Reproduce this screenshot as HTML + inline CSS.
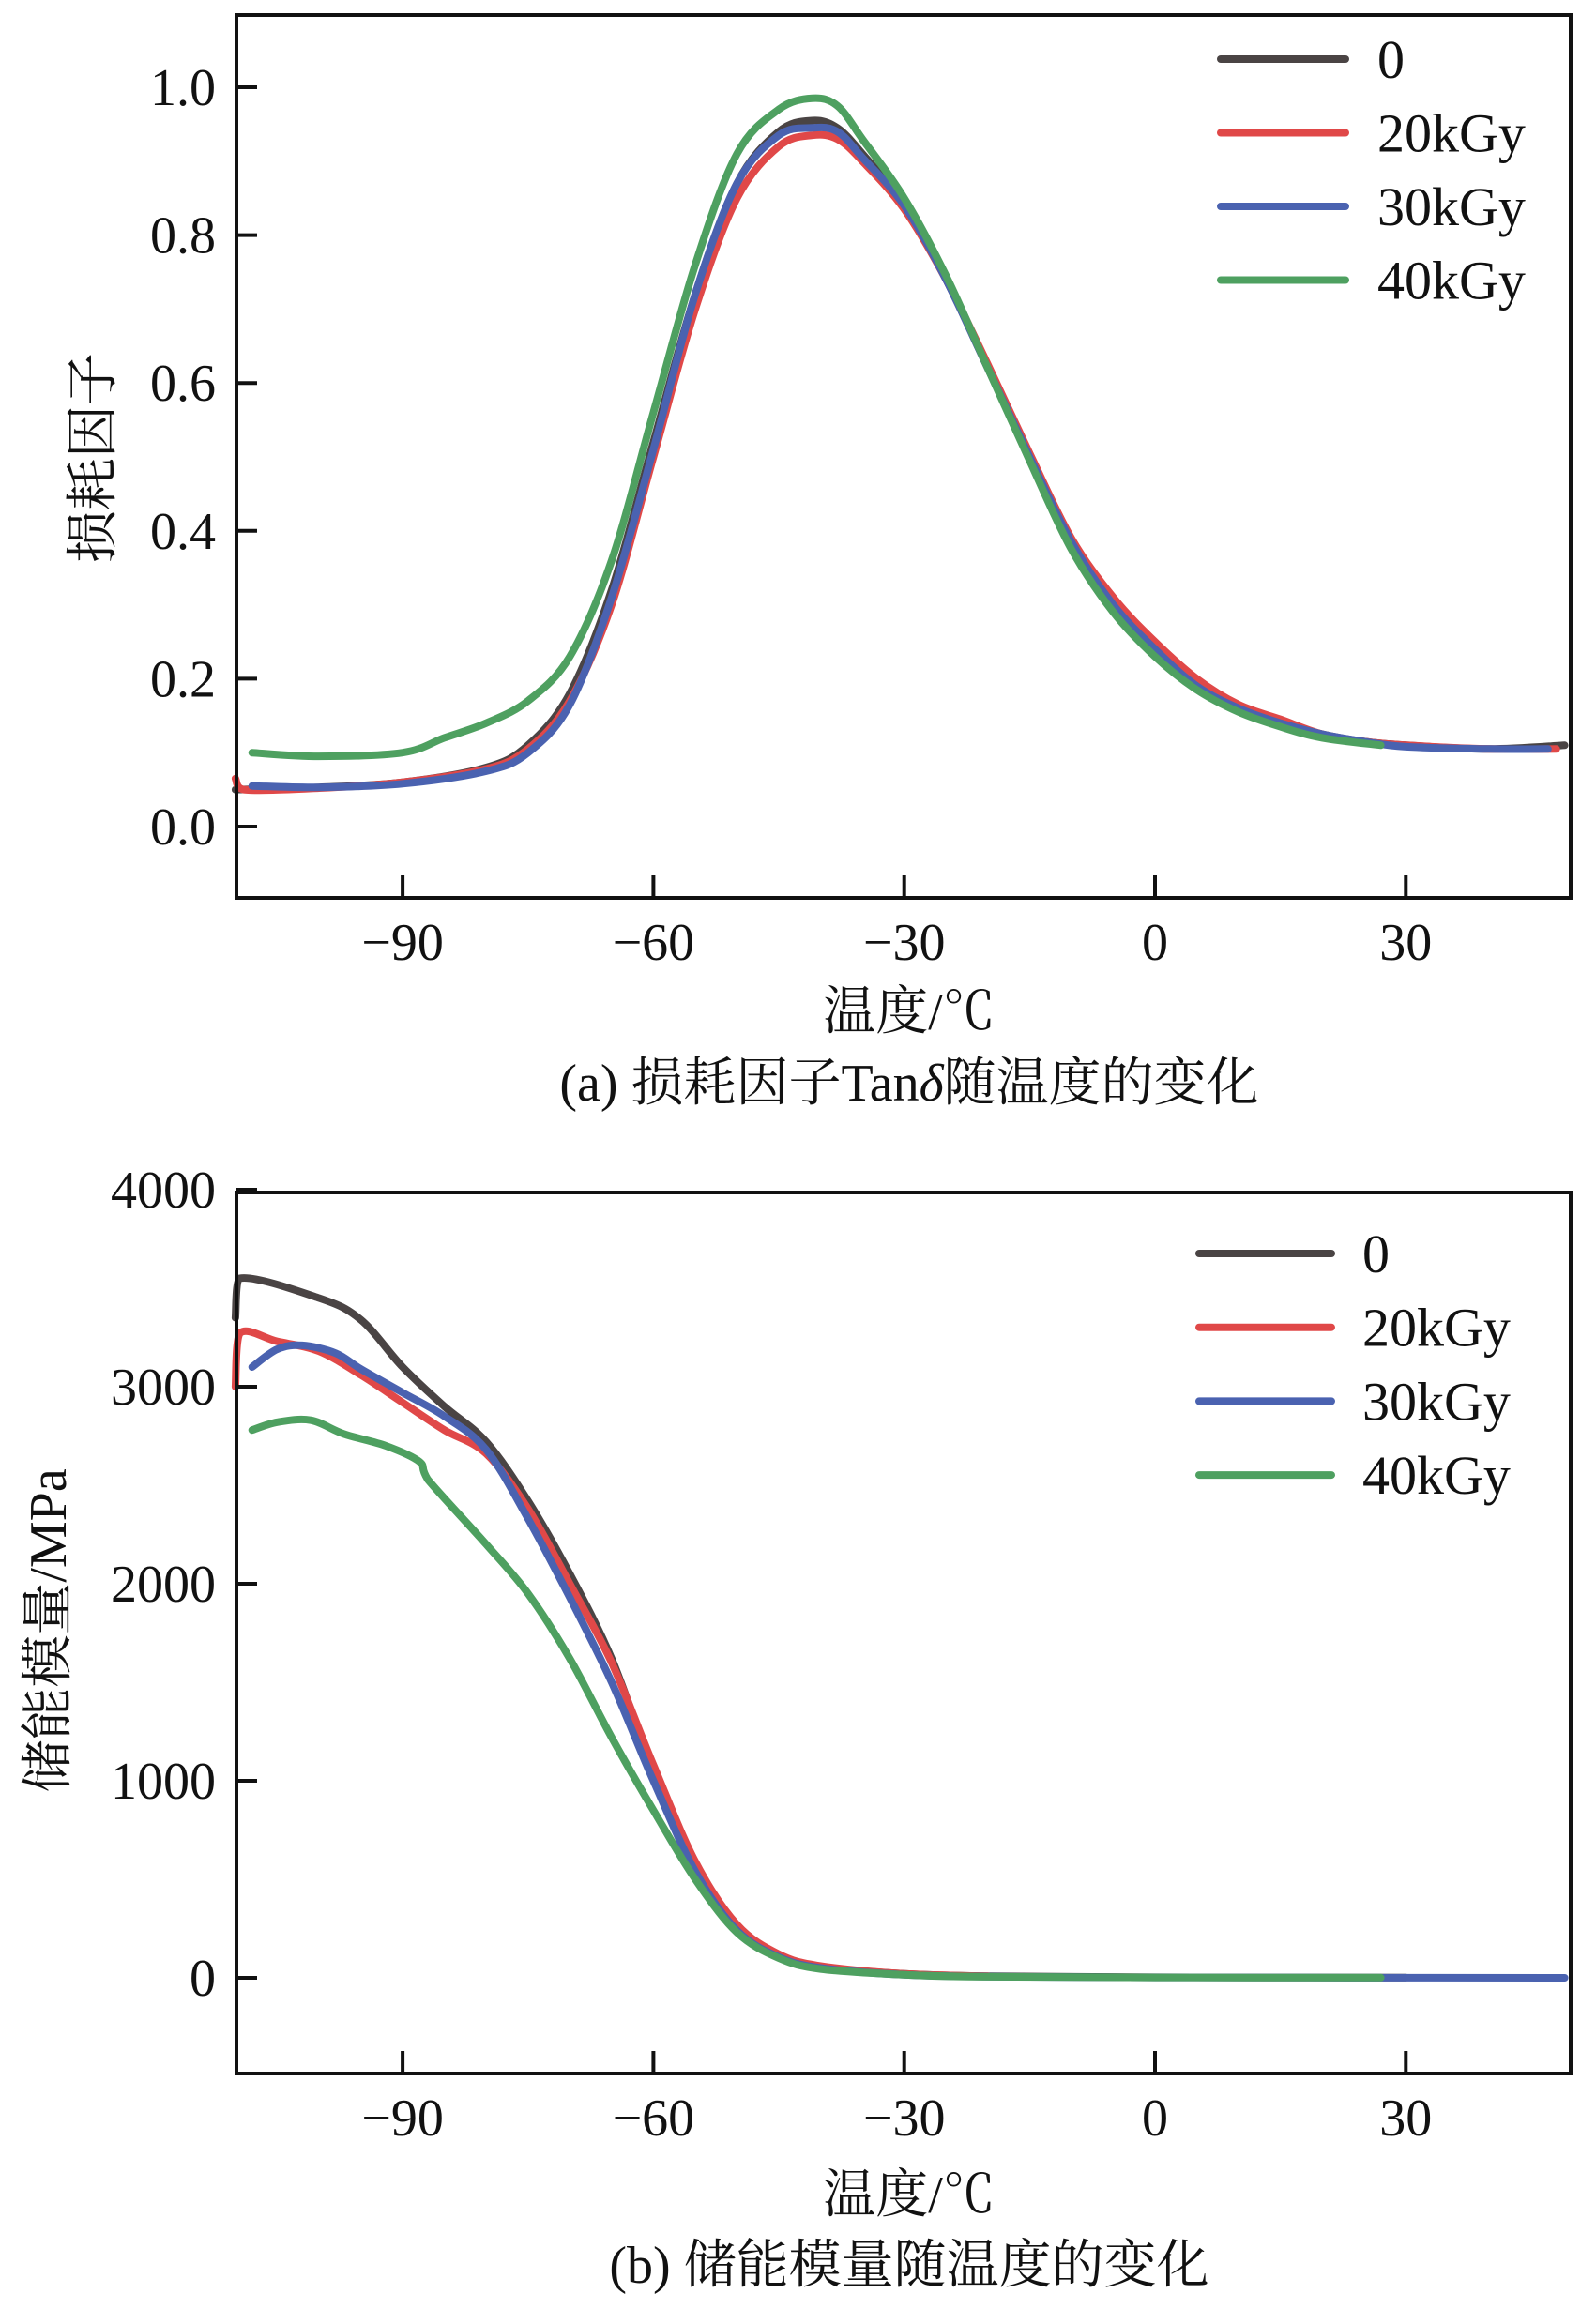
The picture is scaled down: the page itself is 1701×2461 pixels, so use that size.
<!DOCTYPE html>
<html><head><meta charset="utf-8">
<style>
html,body{margin:0;padding:0;background:#fff;}
svg{display:block;}
text{font-family:"Liberation Serif","Noto Serif CJK SC","Noto Sans CJK SC",serif;fill:#111;}
</style></head>
<body>
<svg id="fig" width="1701" height="2461" viewBox="0 0 1701 2461" xmlns="http://www.w3.org/2000/svg">
<g id="chartA"></g>
<g id="chartB"></g>
<text x="0" y="0" font-size="56" text-anchor="middle" transform="translate(118,488) rotate(-90)">损耗因子</text>
<text x="969" y="1097" font-size="56" text-anchor="middle">温度/℃</text>
<text x="969" y="1173" font-size="56" text-anchor="middle">(a) 损耗因子Tan<tspan font-style="italic">δ</tspan>随温度的变化</text>
<text x="0" y="0" font-size="56" text-anchor="middle" transform="translate(70,1738) rotate(-90)">储能模量/MPa</text>
<text x="969" y="2358" font-size="56" text-anchor="middle">温度/℃</text>
<text x="969" y="2433" font-size="56" text-anchor="middle">(b) 储能模量随温度的变化</text>
</svg>
<script>
const seriesNames = ["0","20kGy","30kGy","40kGy"];
const seriesColors = ["#4a4444","#e04848","#4a62b0","#4ea060"];
const xTicks = [-90,-60,-30,0,30];
const yTicksA = [0.0,0.2,0.4,0.6,0.8,1.0];
const yTickLabelsA = ["0.0","0.2","0.4","0.6","0.8","1.0"];
const yTicksB = [0,1000,2000,3000,4000];
const tanBlack = [[-110,0.05],[-100,0.053],[-90,0.06],[-80,0.08],[-75,0.11],[-70,0.18],[-65,0.32],[-60,0.52],[-55,0.72],[-50,0.87],[-45,0.94],[-41,0.955],[-38,0.945],[-35,0.91],[-30,0.84],[-25,0.74],[-20,0.62],[-15,0.5],[-10,0.385],[-5,0.3],[0,0.24],[5,0.19],[10,0.16],[15,0.14],[20,0.125],[25,0.115],[30,0.11],[40,0.105],[49,0.11]];
const tanRed = [[-110,0.065],[-109,0.05],[-100,0.052],[-90,0.06],[-80,0.078],[-75,0.105],[-70,0.17],[-65,0.3],[-60,0.5],[-55,0.7],[-50,0.85],[-45,0.92],[-41,0.935],[-38,0.93],[-35,0.9],[-30,0.835],[-25,0.74],[-20,0.625],[-15,0.505],[-10,0.39],[-5,0.31],[0,0.25],[5,0.2],[10,0.165],[15,0.145],[20,0.125],[25,0.115],[30,0.11],[40,0.105],[48,0.105]];
const tanBlue = [[-108,0.055],[-100,0.053],[-90,0.058],[-80,0.075],[-75,0.1],[-70,0.165],[-65,0.31],[-60,0.51],[-55,0.72],[-50,0.87],[-45,0.935],[-41,0.945],[-38,0.94],[-35,0.905],[-30,0.84],[-25,0.74],[-20,0.62],[-15,0.5],[-10,0.385],[-5,0.3],[0,0.24],[5,0.19],[10,0.16],[15,0.14],[20,0.125],[25,0.115],[30,0.108],[40,0.105],[47,0.105]];
const tanGreen = [[-108,0.1],[-100,0.095],[-90,0.1],[-85,0.12],[-80,0.14],[-75,0.17],[-70,0.23],[-65,0.36],[-60,0.56],[-55,0.76],[-50,0.91],[-45,0.97],[-41,0.985],[-38,0.975],[-35,0.93],[-30,0.85],[-25,0.745],[-20,0.62],[-15,0.495],[-10,0.375],[-5,0.29],[0,0.23],[5,0.185],[10,0.155],[15,0.135],[20,0.12],[27,0.11]];
const eBlack = [[-110,3350],[-109.5,3550],[-100,3450],[-95,3340],[-90,3100],[-85,2900],[-80,2720],[-75,2420],[-70,2050],[-65,1620],[-60,1050],[-55,560],[-50,250],[-45,110],[-40,55],[-30,20],[-20,8],[0,3],[30,1]];
const eRed = [[-110,3000],[-109.5,3270],[-105,3230],[-100,3180],[-95,3060],[-90,2920],[-85,2780],[-80,2660],[-75,2380],[-70,2000],[-65,1600],[-60,1080],[-55,590],[-50,270],[-45,120],[-40,60],[-30,20],[-20,8]];
const eBlue = [[-108,3100],[-105,3190],[-102,3210],[-98,3170],[-95,3090],[-90,2970],[-85,2850],[-80,2680],[-75,2330],[-70,1930],[-65,1500],[-60,1000],[-55,540],[-50,240],[-45,105],[-40,50],[-30,15],[-20,6],[0,2],[49,0]];
const eGreen = [[-108,2780],[-105,2820],[-101,2830],[-97,2760],[-92,2700],[-88,2620],[-87,2530],[-80,2200],[-75,1950],[-70,1620],[-65,1220],[-60,850],[-55,500],[-50,230],[-45,100],[-40,45],[-30,15],[-20,5],[0,2],[27,1]];

const NS="http://www.w3.org/2000/svg";
function mk(tag,attrs,parent){const e=document.createElementNS(NS,tag);for(const k in attrs)e.setAttribute(k,attrs[k]);parent.appendChild(e);return e;}
const X0=252,X1=1674;
function xs(t){return 1231+(t/30)*267.3;}
function smoothPath(pts){
  let d='M'+pts[0][0].toFixed(1)+','+pts[0][1].toFixed(1);
  for(let i=0;i<pts.length-1;i++){
    const p0=pts[Math.max(0,i-1)],p1=pts[i],p2=pts[i+1],p3=pts[Math.min(pts.length-1,i+2)];
    const c1=[p1[0]+(p2[0]-p0[0])/6,p1[1]+(p2[1]-p0[1])/6];
    const c2=[p2[0]-(p3[0]-p1[0])/6,p2[1]-(p3[1]-p1[1])/6];
    c1[0]=Math.min(Math.max(c1[0],p1[0]),p2[0]);c2[0]=Math.min(Math.max(c2[0],p1[0]),p2[0]);
    d+=' C'+c1[0].toFixed(1)+','+c1[1].toFixed(1)+' '+c2[0].toFixed(1)+','+c2[1].toFixed(1)+' '+p2[0].toFixed(1)+','+p2[1].toFixed(1);
  }
  return d;
}
function drawChart(g,top,bottom,ys,yTicks,yLabels,data,legend){
  data.forEach((d,i)=>{
    const pts=d.map(pt=>[xs(pt[0]),ys(pt[1])]);
    const p=mk('path',{d:smoothPath(pts),fill:'none',stroke:seriesColors[i],'stroke-width':8,'stroke-linejoin':'round','stroke-linecap':'round'},g);
    
    
  });
  const fr=mk('rect',{x:X0,y:top,width:X1-X0,height:bottom-top,fill:'none',stroke:'#111','stroke-width':4},g);
  
  
  xTicks.forEach(t=>{
    const l=mk('line',{x1:xs(t),x2:xs(t),y1:bottom,y2:bottom-24,stroke:'#111','stroke-width':4},g);
    
    
    const tx=mk('text',{x:xs(t),y:bottom+66,'font-size':56,'text-anchor':'middle'},g);
    tx.textContent=(t<0?'\u2212'+(-t):String(t));
    
    
  });
  yTicks.forEach((v,i)=>{
    const l=mk('line',{x1:X0,x2:X0+22,y1:ys(v),y2:ys(v),stroke:'#111','stroke-width':4},g);
    
    
    const tx=mk('text',{x:230,y:ys(v)+19,'font-size':56,'text-anchor':'end'},g);
    tx.textContent=yLabels[i];
    
    
  });
  seriesNames.forEach((n,i)=>{
    const y=legend.y0+i*legend.dy;
    const l=mk('line',{x1:legend.x1,x2:legend.x2,y1:y,y2:y,stroke:seriesColors[i],'stroke-width':8,'stroke-linecap':'round'},g);
    
    
    const tx=mk('text',{x:legend.tx,y:y+20,'font-size':58},g);
    tx.textContent=n;
    
    
  });
}
const ysA=v=>881-v*788;
drawChart(document.getElementById('chartA'),16,957,ysA,yTicksA,yTickLabelsA,[tanBlack,tanRed,tanBlue,tanGreen],{x1:1301,x2:1434,y0:63,dy:78.5,tx:1468});
const ysB=v=>2108-v*0.21;
drawChart(document.getElementById('chartB'),1271,2210,ysB,yTicksB,yTicksB.map(String),[eBlack,eRed,eBlue,eGreen],{x1:1278,x2:1419,y0:1336,dy:78.7,tx:1452});
</script>
</body></html>
